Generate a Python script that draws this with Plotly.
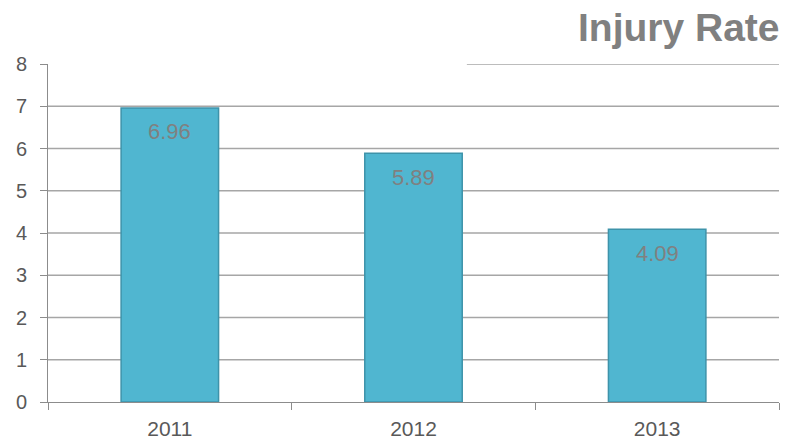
import plotly.graph_objects as go

years = ["2011", "2012", "2013"]
rates = [6.96, 5.89, 4.09]
labels = ["6.96", "5.89", "4.09"]
y_ticks = [0, 1, 2, 3, 4, 5, 6, 7, 8]

FONT = "Liberation Sans, Arial"

fig = go.Figure()
fig.add_trace(go.Bar(
    x=years, y=rates,
    marker=dict(color="#50B6D0", line=dict(color="#3E93AA", width=1.5)),
    hoverinfo="skip",
))

for i, (v, t) in enumerate(zip(rates, labels)):
    fig.add_annotation(x=i, y=v, text=t, showarrow=False, yanchor="middle",
                       yshift=-24, font=dict(family=FONT, size=22, color="#808080"))

fig.add_annotation(xref="paper", yref="paper", x=1, y=1, yshift=37, xanchor="right", yanchor="middle",
                   xshift=3, text="<b>Injury Rate</b>", showarrow=False,
                   font=dict(family=FONT, size=39, color="#808080"))

# gridlines (the top one is partly hidden by the title area)
for v in y_ticks[1:]:
    x0 = 0.573 if v == y_ticks[-1] else 0.0
    fig.add_shape(type="line", xref="x domain", yref="y", x0=x0, x1=1, y0=v, y1=v,
                  line=dict(color="#A6A6A6", width=1.5), layer="below")

fig.update_layout(
    width=789, height=440,
    margin=dict(l=48, r=10, t=64, b=38),
    paper_bgcolor="white", plot_bgcolor="white",
    bargap=0.6, showlegend=False,
    font=dict(family=FONT, size=20, color="#595959"),
)
fig.update_xaxes(
    type="category", range=[-0.5, 2.5], showgrid=False, showline=True, linecolor="#8C8C8C", linewidth=1,
    ticks="outside", tickson="boundaries", ticklen=7, tickcolor="#8C8C8C",
    tickfont=dict(family=FONT, size=21, color="#595959"), ticklabelstandoff=8, automargin=False,
)
fig.update_yaxes(
    range=[0, 8], tickvals=y_ticks, showgrid=False,
    showline=True, linecolor="#8C8C8C", linewidth=1, ticks="outside", ticklen=7,
    tickcolor="#8C8C8C", tickfont=dict(family=FONT, size=20, color="#595959"), zeroline=False,
    ticklabelstandoff=9, automargin=False,
)

fig.write_html("out.html", config={"displayModeBar": False},
               post_script="document.body.style.margin='0';document.body.style.overflow='hidden';")
